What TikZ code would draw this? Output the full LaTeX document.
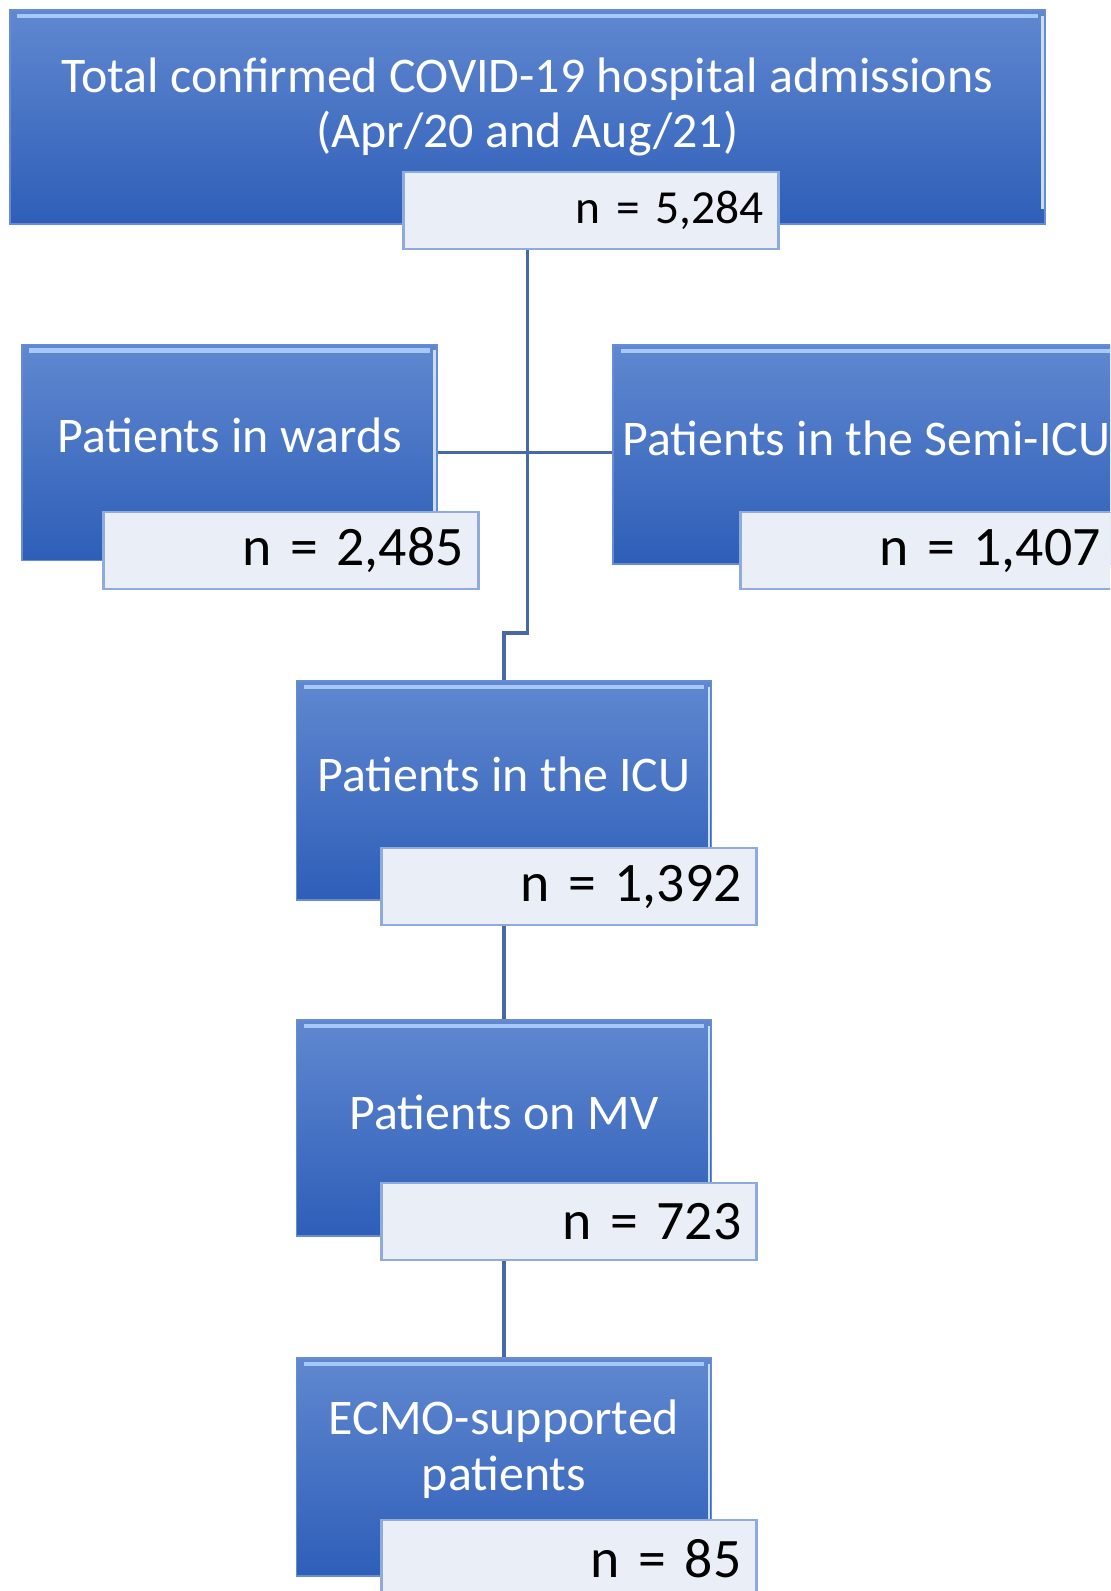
\documentclass[tikz,border=0pt]{standalone}
\usepackage{fontspec}
\setmainfont{Carlito}
\usetikzlibrary{calc}

\definecolor{boxtop}{RGB}{96,136,208}
\definecolor{boxbot}{RGB}{46,94,184}
\definecolor{boxedge}{RGB}{104,140,212}
\definecolor{boxshine}{RGB}{166,200,250}
\definecolor{nfill}{RGB}{233,238,247}
\definecolor{nedge}{RGB}{143,170,220}
\definecolor{linkcol}{RGB}{72,104,168}

\begin{document}
\begin{tikzpicture}[
    every node/.style={font=\fontsize{28.4}{31.5}\selectfont},
    panel/.style={draw=boxedge, line width=1pt, top color=boxtop, bottom color=boxbot,
        minimum width=8.3cm, minimum height=4.32cm, inner sep=0pt,
        path picture={
            \draw[boxshine, line width=2.5pt] ($(path picture bounding box.north west)+(0.15,-0.12)$) -- ($(path picture bounding box.north east)+(-0.15,-0.12)$);
            \draw[boxshine!60!white, line width=1.5pt] ($(path picture bounding box.north east)+(-0.05,-0.12)$) -- ($(path picture bounding box.south east)+(-0.05,0.3)$);
        }},
    paneltext/.style={text=white, align=center},
    count/.style={draw=nedge, line width=1.5pt, fill=nfill, text width=6.9cm, inner xsep=0.3cm,
        minimum height=1.54cm, align=right, font=\fontsize{31.7}{36}\selectfont},
    link/.style={draw=linkcol, line width=1.8pt},
]

% --- Frame ---
\path[use as bounding box, clip] (0, 0) rectangle (22.2, -31.82);

% --- Boxes ---
\node[panel, minimum width=20.7cm, minimum height=4.28cm] (total) at (10.55, -2.34) {};
\node[panel] (wards) at (4.59, -9.05) {};
\node[panel, minimum width=10.14cm, minimum height=4.38cm] (semi) at (17.33, -9.09) {};
\node[panel, minimum height=4.38cm] (icu) at (10.08, -15.81) {};
\node[panel] (mv) at (10.08, -22.56) {};
\node[panel, minimum height=4.36cm] (ecmo) at (10.08, -29.34) {};

% --- Box texts ---
\node[paneltext] (totaltxt) at ([yshift=0.2cm]total.center) {Total confirmed COVID-19 hospital admissions\\(Apr/20 and Aug/21)};
\node[paneltext] (wardstxt) at ([yshift=0.34cm]wards.center) {Patients in wards};
\node[paneltext] (semitxt) at ([yshift=0.32cm]semi.center) {Patients in the Semi-ICU};
\node[paneltext] (icutxt) at ([yshift=0.32cm]icu.center) {Patients in the ICU};
\node[paneltext] (mvtxt) at ([yshift=0.32cm]mv.center) {Patients on MV};
\node[paneltext] (ecmotxt) at ([yshift=0.36cm]ecmo.center) {ECMO-supported\\patients};

% --- Links ---
\coordinate (jog) at (0, -12.66);
\draw[link] (total.south) -- (total.south |- jog) -| (icu.north);
\draw[link] (wards.east) -- (wards.east -| semi.west);
\draw[link] (icu.south) -- (mv.north);
\draw[link] (mv.south) -- (ecmo.north);

% --- Counts ---
\node[count, font=\fontsize{27}{31}\selectfont] (totaln) at (11.82, -4.21) {n = 5,284};
\node[count] (wardsn) at (5.82, -11.01) {n = 2,485};
\node[count] (semin) at (18.56, -11.01) {n = 1,407};
\node[count] (icun) at (11.38, -17.73) {n = 1,392};
\node[count] (mvn) at (11.38, -24.43) {n = 723};
\node[count] (ecmon) at (11.38, -31.17) {n = 85};

\end{tikzpicture}
\end{document}
